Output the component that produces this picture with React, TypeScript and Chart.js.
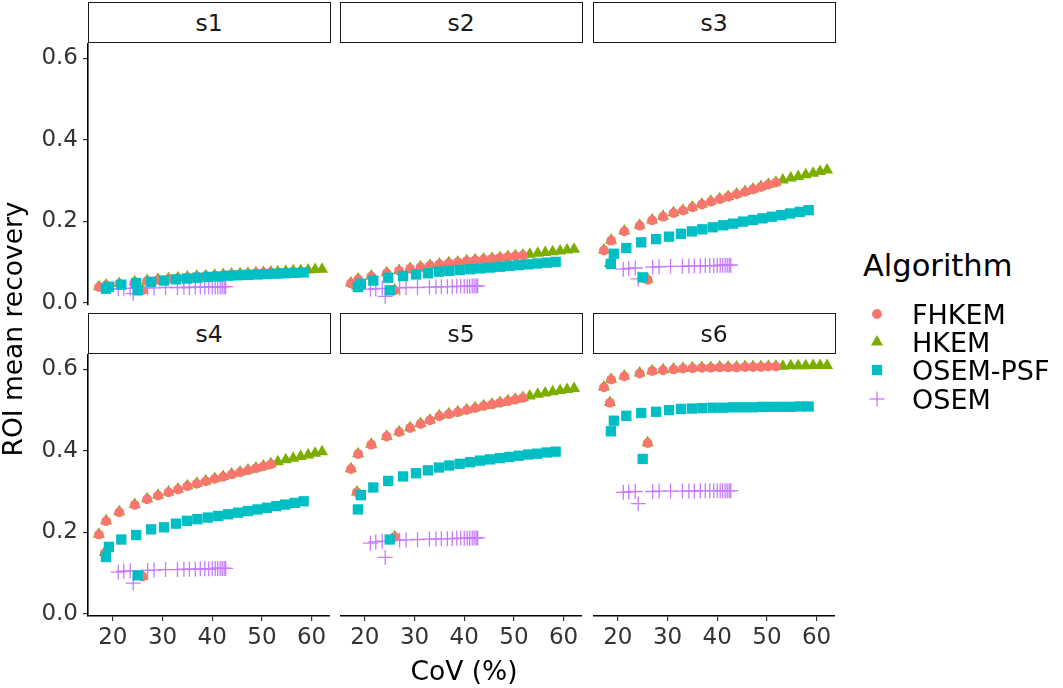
import React, { useEffect, useRef } from "react";
import { Chart, registerables } from "chart.js";

Chart.register(...registerables);

// ---------------- data ----------------
const PANEL_NAMES = ["s1", "s2", "s3", "s4", "s5", "s6"];
const ALGORITHMS = ["FHKEM", "HKEM", "OSEM-PSF", "OSEM"];
const X_TICKS = [20, 30, 40, 50, 60];
const Y_TICKS = [0, 0.2, 0.4, 0.6];

// CoV (%) per iteration (shared by all ROIs)
const FHKEM_COV = [26.0, 18.4, 17.2, 18.65, 21.3, 24.4, 26.9, 29.1, 31.2, 33.1, 35.0, 36.9, 38.7, 40.5, 42.2, 43.9, 45.6, 47.2, 48.8, 50.3, 51.8];
const HKEM_COV = [26.0, 18.4, 17.2, 18.65, 21.3, 24.4, 26.9, 29.1, 31.2, 33.1, 35.0, 36.9, 38.7, 40.5, 42.2, 43.9, 45.6, 47.2, 48.8, 50.3, 51.8, 53.2, 54.8, 56.3, 57.8, 59.3, 60.7, 62.1];
const PSF_COV = [25.0, 18.6, 19.2, 21.7, 24.7, 27.7, 30.3, 32.7, 34.9, 37.0, 39.1, 41.2, 43.2, 45.2, 47.2, 49.1, 51.0, 52.9, 54.7, 56.6, 58.4];
const OSEM_COV = [24.1, 21.1, 22.2, 23.5, 27.0, 28.3, 30.6, 33.0, 34.3, 35.4, 36.6, 37.6, 38.5, 39.3, 40.0, 40.6, 41.1, 41.6, 42.0, 42.4, 42.7];

// ROI mean recovery
const S1_FHKEM = [0.030, 0.036, 0.038, 0.042, 0.046, 0.050, 0.053, 0.056, 0.058, 0.060, 0.062, 0.064, 0.065, 0.066, 0.068, 0.069, 0.070, 0.071, 0.072, 0.073, 0.074];
const S1_HKEM = [0.031, 0.037, 0.039, 0.043, 0.047, 0.051, 0.054, 0.057, 0.059, 0.061, 0.063, 0.065, 0.066, 0.067, 0.069, 0.070, 0.071, 0.072, 0.073, 0.074, 0.075, 0.076, 0.077, 0.078, 0.079, 0.080, 0.081, 0.082];
const S1_PSF = [0.030, 0.034, 0.039, 0.044, 0.048, 0.051, 0.054, 0.057, 0.059, 0.061, 0.063, 0.064, 0.066, 0.067, 0.068, 0.069, 0.070, 0.071, 0.072, 0.073, 0.074];
const S1_OSEM = [0.022, 0.034, 0.035, 0.035, 0.036, 0.036, 0.037, 0.037, 0.037, 0.037, 0.038, 0.038, 0.038, 0.038, 0.038, 0.038, 0.038, 0.039, 0.039, 0.039, 0.039];

const S2_FHKEM = [0.030, 0.040, 0.047, 0.057, 0.064, 0.072, 0.078, 0.083, 0.087, 0.091, 0.094, 0.097, 0.099, 0.102, 0.104, 0.106, 0.108, 0.110, 0.112, 0.114, 0.116];
const S2_HKEM = [0.031, 0.041, 0.048, 0.058, 0.065, 0.073, 0.079, 0.084, 0.088, 0.092, 0.095, 0.098, 0.100, 0.103, 0.105, 0.107, 0.109, 0.111, 0.113, 0.115, 0.117, 0.119, 0.121, 0.123, 0.125, 0.127, 0.129, 0.131];
const S2_PSF = [0.030, 0.038, 0.046, 0.054, 0.061, 0.065, 0.069, 0.072, 0.076, 0.078, 0.080, 0.082, 0.084, 0.086, 0.088, 0.090, 0.092, 0.094, 0.096, 0.098, 0.100];
const S2_OSEM = [0.015, 0.033, 0.034, 0.035, 0.036, 0.037, 0.037, 0.038, 0.038, 0.039, 0.039, 0.039, 0.040, 0.040, 0.040, 0.040, 0.040, 0.041, 0.041, 0.041, 0.041];

const S3_FHKEM = [0.056, 0.095, 0.128, 0.152, 0.175, 0.189, 0.202, 0.211, 0.220, 0.226, 0.234, 0.241, 0.248, 0.254, 0.260, 0.266, 0.272, 0.278, 0.284, 0.290, 0.295];
const S3_HKEM = [0.057, 0.096, 0.129, 0.153, 0.176, 0.190, 0.203, 0.212, 0.221, 0.227, 0.235, 0.242, 0.249, 0.255, 0.261, 0.267, 0.273, 0.279, 0.285, 0.291, 0.296, 0.301, 0.306, 0.310, 0.314, 0.318, 0.322, 0.326];
const S3_PSF = [0.062, 0.095, 0.120, 0.134, 0.148, 0.156, 0.162, 0.169, 0.175, 0.180, 0.185, 0.190, 0.194, 0.199, 0.203, 0.207, 0.211, 0.215, 0.219, 0.223, 0.227];
const S3_OSEM = [0.058, 0.082, 0.084, 0.085, 0.087, 0.088, 0.089, 0.089, 0.090, 0.090, 0.090, 0.091, 0.091, 0.091, 0.091, 0.092, 0.092, 0.092, 0.092, 0.092, 0.092];

const S4_FHKEM = [0.091, 0.149, 0.194, 0.227, 0.249, 0.267, 0.281, 0.290, 0.298, 0.305, 0.313, 0.319, 0.325, 0.331, 0.336, 0.342, 0.347, 0.352, 0.357, 0.362, 0.367];
const S4_HKEM = [0.092, 0.150, 0.195, 0.228, 0.250, 0.268, 0.282, 0.291, 0.299, 0.306, 0.314, 0.320, 0.326, 0.332, 0.337, 0.343, 0.348, 0.353, 0.358, 0.363, 0.368, 0.373, 0.378, 0.382, 0.386, 0.390, 0.394, 0.398];
const S4_PSF = [0.094, 0.139, 0.164, 0.182, 0.193, 0.207, 0.212, 0.221, 0.228, 0.232, 0.236, 0.240, 0.244, 0.248, 0.252, 0.256, 0.260, 0.264, 0.268, 0.272, 0.276];
const S4_OSEM = [0.075, 0.102, 0.104, 0.105, 0.106, 0.107, 0.108, 0.108, 0.109, 0.109, 0.109, 0.110, 0.110, 0.110, 0.110, 0.111, 0.111, 0.111, 0.111, 0.111, 0.111];

const S5_FHKEM = [0.188, 0.298, 0.355, 0.392, 0.415, 0.435, 0.446, 0.456, 0.466, 0.475, 0.485, 0.490, 0.495, 0.500, 0.505, 0.510, 0.514, 0.518, 0.522, 0.526, 0.530];
const S5_HKEM = [0.189, 0.299, 0.356, 0.393, 0.416, 0.436, 0.447, 0.457, 0.467, 0.476, 0.486, 0.491, 0.496, 0.501, 0.506, 0.511, 0.515, 0.519, 0.523, 0.527, 0.531, 0.535, 0.539, 0.542, 0.545, 0.548, 0.551, 0.553];
const S5_PSF = [0.182, 0.256, 0.291, 0.310, 0.326, 0.337, 0.345, 0.352, 0.359, 0.364, 0.368, 0.372, 0.376, 0.379, 0.382, 0.385, 0.388, 0.391, 0.393, 0.396, 0.398];
const S5_OSEM = [0.138, 0.173, 0.176, 0.178, 0.180, 0.181, 0.182, 0.183, 0.183, 0.184, 0.184, 0.184, 0.185, 0.185, 0.185, 0.185, 0.185, 0.186, 0.186, 0.186, 0.186];

const S6_FHKEM = [0.419, 0.518, 0.556, 0.575, 0.583, 0.590, 0.596, 0.598, 0.600, 0.602, 0.603, 0.604, 0.604, 0.605, 0.605, 0.605, 0.606, 0.606, 0.606, 0.607, 0.607];
const S6_HKEM = [0.420, 0.519, 0.557, 0.576, 0.584, 0.591, 0.597, 0.599, 0.601, 0.603, 0.604, 0.605, 0.605, 0.606, 0.606, 0.606, 0.607, 0.607, 0.607, 0.608, 0.608, 0.608, 0.609, 0.609, 0.609, 0.610, 0.610, 0.610];
const S6_PSF = [0.380, 0.448, 0.474, 0.486, 0.493, 0.496, 0.500, 0.503, 0.504, 0.505, 0.506, 0.506, 0.507, 0.507, 0.507, 0.508, 0.508, 0.508, 0.508, 0.509, 0.509];
const S6_OSEM = [0.270, 0.298, 0.299, 0.300, 0.300, 0.301, 0.301, 0.301, 0.301, 0.301, 0.302, 0.302, 0.302, 0.302, 0.302, 0.302, 0.302, 0.302, 0.302, 0.302, 0.302];

const COV_BY_ALGO = [FHKEM_COV, HKEM_COV, PSF_COV, OSEM_COV];
const RECOVERY_BY_PANEL = [
  [S1_FHKEM, S1_HKEM, S1_PSF, S1_OSEM],
  [S2_FHKEM, S2_HKEM, S2_PSF, S2_OSEM],
  [S3_FHKEM, S3_HKEM, S3_PSF, S3_OSEM],
  [S4_FHKEM, S4_HKEM, S4_PSF, S4_OSEM],
  [S5_FHKEM, S5_HKEM, S5_PSF, S5_OSEM],
  [S6_FHKEM, S6_HKEM, S6_PSF, S6_OSEM],
];

// ---------------- styling / layout ----------------
const FONT = "'DejaVu Sans', 'Liberation Sans', sans-serif";
const COLORS = ["#F8766D", "#7CAE00", "#00BFC4", "#C77CFF"];
const POINT_STYLES = ["circle", "triangle", "rect", "cross"];
const POINT_RADII = [4.9, 7, 7.3, 7.5];
const DRAW_ORDER = [3, 4, 1, 2]; // higher = drawn first (below)

const X_MIN = 15.0;
const X_MAX = 63.7;
const Y_MIN = -0.006;
const Y_MAX = 0.638;

const COL_LEFT = [88, 340, 593];
const PANEL_W = 242;
const ROW_TOP = [43, 354];
const PANEL_H = 262;
const Y_AXIS_W = 88;
const X_AXIS_H = 45;
const TOP_ROW_EXTRA = 12;
const STRIP_H = 41.5;

function PanelChart({ index }: { index: number }) {
  const ref = useRef<HTMLCanvasElement | null>(null);
  const row = Math.floor(index / 3);
  const col = index % 3;
  const showY = col === 0;
  const showX = row === 1;
  const left = COL_LEFT[col] - (showY ? Y_AXIS_W : 0);
  const width = PANEL_W + (showY ? Y_AXIS_W : 0);
  const bottomPad = showX ? 0 : TOP_ROW_EXTRA;
  const height = PANEL_H + (showX ? X_AXIS_H : 0) + bottomPad;

  useEffect(() => {
    if (!ref.current) return;
    const datasets = ALGORITHMS.map((name, a) => ({
      label: name,
      data: COV_BY_ALGO[a].map((x, k) => ({ x, y: RECOVERY_BY_PANEL[index][a][k] })),
      pointStyle: POINT_STYLES[a] as any,
      pointRadius: POINT_RADII[a],
      pointHoverRadius: POINT_RADII[a],
      backgroundColor: COLORS[a],
      borderColor: COLORS[a],
      borderWidth: POINT_STYLES[a] === "cross" ? 1.3 : 0,
      showLine: false,
      clip: false,
      order: DRAW_ORDER[a],
    }));
    const chart = new Chart(ref.current, {
      type: "scatter",
      data: { datasets },
      options: {
        animation: false,
        responsive: true,
        maintainAspectRatio: false,
        events: [],
        layout: { padding: { left: 0, right: 0, top: 0, bottom: bottomPad }, autoPadding: false },
        plugins: {
          legend: { display: false },
          tooltip: { enabled: false },
          title: { display: false },
        },
        scales: {
          x: {
            type: "linear",
            min: X_MIN,
            max: X_MAX,
            display: showX,
            afterBuildTicks: (s: any) => {
              s.ticks = X_TICKS.map((v) => ({ value: v }));
            },
            afterFit: (s: any) => {
              s.height = showX ? X_AXIS_H : 0;
              s.paddingLeft = 0;
              s.paddingRight = 0;
              s.paddingTop = 0;
              s.paddingBottom = 0;
            },
            grid: {
              display: showX,
              drawOnChartArea: false,
              drawTicks: true,
              tickLength: 5,
              color: "#333333",
              lineWidth: 1.2,
            },
            border: { display: showX, color: "#000000", width: 1.6 },
            ticks: {
              display: showX,
              font: { family: FONT, size: 23 },
              color: "#333333",
              padding: 3,
              maxRotation: 0,
              autoSkip: false,
              callback: (v: any) => String(v),
            },
          },
          y: {
            type: "linear",
            min: Y_MIN,
            max: Y_MAX,
            display: showY,
            afterBuildTicks: (s: any) => {
              s.ticks = Y_TICKS.map((v) => ({ value: v }));
            },
            afterFit: (s: any) => {
              s.width = showY ? Y_AXIS_W : 0;
              s.paddingTop = 0;
              s.paddingBottom = 0;
              s.paddingLeft = 0;
              s.paddingRight = 0;
            },
            grid: {
              display: showY,
              drawOnChartArea: false,
              drawTicks: true,
              tickLength: 5,
              color: "#333333",
              lineWidth: 1.2,
            },
            border: { display: showY, color: "#000000", width: 1.6 },
            ticks: {
              display: showY,
              font: { family: FONT, size: 23 },
              color: "#333333",
              padding: 5,
              autoSkip: false,
              callback: (v: any) => Number(v).toFixed(1),
            },
          },
        },
      } as any,
    });
    return () => chart.destroy();
  }, [index]);

  return (
    <div style={{ position: "absolute", left, top: ROW_TOP[row], width, height }}>
      <canvas ref={ref} />
    </div>
  );
}

function Strip({ index }: { index: number }) {
  const row = Math.floor(index / 3);
  const col = index % 3;
  return (
    <div
      style={{
        position: "absolute",
        left: COL_LEFT[col] - 0.5,
        top: ROW_TOP[row] - STRIP_H,
        width: PANEL_W + 1,
        height: STRIP_H,
        boxSizing: "border-box",
        border: "1.6px solid #1a1a1a",
        background: "#ffffff",
        display: "flex",
        alignItems: "center",
        justifyContent: "center",
        paddingTop: 2,
        fontFamily: FONT,
        fontSize: 23.5,
        color: "#1a1a1a",
      }}
    >
      {PANEL_NAMES[index]}
    </div>
  );
}

const LEGEND_ROWS = [314, 342, 370, 398.5];

function LegendKey({ a }: { a: number }) {
  const c = 10;
  const color = COLORS[a];
  let shape: any = null;
  if (POINT_STYLES[a] === "circle") {
    shape = <circle cx={c} cy={c} r={4.9} fill={color} />;
  } else if (POINT_STYLES[a] === "triangle") {
    const r = 7;
    shape = (
      <polygon
        points={`${c},${c - r} ${c + r * 0.866},${c + r / 2} ${c - r * 0.866},${c + r / 2}`}
        fill={color}
      />
    );
  } else if (POINT_STYLES[a] === "rect") {
    const h = 5.15;
    shape = <rect x={c - h} y={c - h} width={2 * h} height={2 * h} fill={color} />;
  } else {
    const r = 7.5;
    shape = (
      <g stroke={color} strokeWidth={1.3}>
        <line x1={c - r} y1={c} x2={c + r} y2={c} />
        <line x1={c} y1={c - r} x2={c} y2={c + r} />
      </g>
    );
  }
  return (
    <svg width={20} height={20} style={{ position: "absolute", left: 867, top: LEGEND_ROWS[a] - 10 }}>
      {shape}
    </svg>
  );
}

export default function App() {
  return (
    <div
      style={{
        position: "absolute",
        left: 0,
        top: 0,
        width: 1063,
        height: 688,
        background: "#ffffff",
        overflow: "hidden",
        fontFamily: FONT,
      }}
    >
      {PANEL_NAMES.map((_, i) => (
        <PanelChart key={"c" + i} index={i} />
      ))}
      {PANEL_NAMES.map((_, i) => (
        <Strip key={"s" + i} index={i} />
      ))}
      {/* y axis title */}
      <div
        style={{
          position: "absolute",
          left: 13 - 170,
          top: 328.5 - 15,
          width: 340,
          height: 30,
          lineHeight: "30px",
          textAlign: "center",
          fontSize: 26.5,
          color: "#000",
          transform: "rotate(-90deg)",
          whiteSpace: "nowrap",
        }}
      >
        ROI mean recovery
      </div>
      {/* x axis title */}
      <div
        style={{
          position: "absolute",
          left: 464 - 120,
          top: 657.5,
          width: 240,
          lineHeight: 1,
          textAlign: "center",
          fontSize: 26.5,
          color: "#000",
          whiteSpace: "nowrap",
        }}
      >
        CoV (%)
      </div>
      {/* legend */}
      <div
        style={{
          position: "absolute",
          left: 863,
          top: 251.2,
          lineHeight: 1,
          fontSize: 30.5,
          color: "#000",
          whiteSpace: "nowrap",
        }}
      >
        Algorithm
      </div>
      {ALGORITHMS.map((name, a) => (
        <React.Fragment key={name}>
          <LegendKey a={a} />
          <div
            style={{
              position: "absolute",
              left: 912,
              top: LEGEND_ROWS[a] - 13,
              lineHeight: 1,
              fontSize: 27,
              color: "#000",
              whiteSpace: "nowrap",
            }}
          >
            {name}
          </div>
        </React.Fragment>
      ))}
    </div>
  );
}
